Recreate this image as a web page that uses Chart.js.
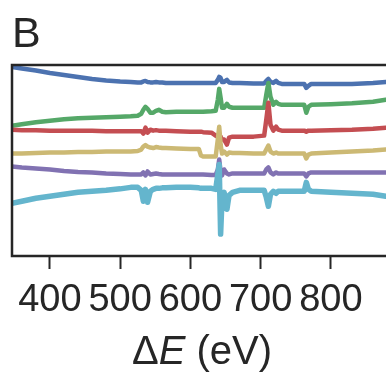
<!DOCTYPE html>
<html>
<head>
<meta charset="utf-8">
<title>Panel B</title>
<script src="https://cdn.jsdelivr.net/npm/chart.js@4/dist/chart.umd.min.js"></script>
<style>
  html, body { margin: 0; padding: 0; background: #fff; overflow: hidden; }
  #wrap { width: 386px; height: 378px; overflow: hidden; }
  canvas { display: block; }
</style>
</head>
<body>
<div id="wrap"><canvas id="spectra" width="392" height="378"></canvas></div>
<script>
/* Panel B — stacked spectra vs energy loss */

// ── Data (energy loss in eV, intensities in arb. units, offset per trace) ──
var energy = [346, 360, 380, 400, 420, 440, 460, 480, 500, 515,
              525, 530, 533, 536, 539, 543, 547, 551, 555, 560,
              565, 580, 600, 612, 615, 618, 630, 636, 639, 641,
              643, 645, 648, 652, 655, 660, 670, 690, 705, 708,
              711, 714, 718, 722, 725, 730, 745, 762, 765, 768,
              772, 800, 830, 860, 878];

var blue   = [190, 188.5, 186.5, 184, 182, 180, 178, 176.5, 175.5, 175,
              174.5, 174.5, 175.5, 176, 175, 174.5, 174.5, 175, 174.5, 174.5,
              174, 174, 174, 174, 174, 174, 174, 174, 177, 180,
              179, 175, 175, 177, 174.5, 174, 174, 173.5, 173.5, 176,
              178, 175, 174, 176, 174, 173, 173, 173, 169, 171,
              173, 173, 173, 174, 175];

var green  = [131, 132.5, 134.5, 136, 137.5, 138.5, 139, 139.5, 140, 140.5,
              141, 143, 147, 150, 148, 144, 144, 146, 147, 145,
              144.5, 145, 145, 145, 145, 145, 145.5, 146, 157, 168,
              159, 149, 149, 153, 150, 149, 149, 149, 149, 162,
              174, 160, 152, 155, 153, 152, 152, 152, 144, 150,
              152, 152.5, 153.5, 155, 157];

var red    = [127, 126.5, 126.5, 126, 126, 126, 126, 125.5, 125.5, 125.5,
              125.5, 125.5, 123, 129, 124, 127, 126, 126.5, 126, 126,
              126, 125.5, 125, 125, 125, 124.5, 124, 121, 120, 119,
              120, 117, 117, 112, 119, 120, 120, 120, 121, 137,
              154, 132, 126, 130, 127, 126, 126, 126, 125, 126,
              126, 126.5, 127, 128, 129];

var yellow = [103, 103, 103.5, 104, 104, 104.5, 104.5, 105, 105, 105,
              105.5, 107, 110, 111.5, 110, 109, 108.5, 109.5, 109, 108.5,
              108.5, 108, 107.5, 107.5, 101, 100, 100, 100, 117, 130,
              112, 103, 105, 102, 104, 103.5, 103.5, 103, 103, 107,
              111, 105, 103, 104, 103, 103, 103, 103, 98, 102,
              103, 104, 105, 106, 107];

var purple = [90, 89, 88, 87, 85.5, 84.5, 84, 83, 82.5, 82,
              82, 82, 84, 81, 85, 82, 82.5, 83, 82.5, 82,
              82, 82, 82, 82, 82, 82, 81.5, 81.5, 87, 97,
              85, 81, 87, 83, 82, 83, 83, 83, 83, 87,
              89, 84, 82, 84, 83, 83, 83, 83, 80, 83,
              84, 84, 84, 84, 84];

var cyan   = [53, 55, 58, 60, 62, 64, 65, 66, 67.5, 69,
              69, 66, 55, 67, 54, 65, 67, 68, 68, 68.5,
              68.5, 69, 69, 68.5, 68, 68, 68, 67, 82, 92,
              22, 57, 64, 47, 61, 64, 66, 66, 66, 59,
              50, 62, 65, 63, 65, 65, 65, 65, 74, 67,
              65, 64, 63, 62, 60];

var xTicks = [400, 500, 600, 700, 800];

(function () {
  "use strict";

  var INK = "#262626";
  var FONT = "'Liberation Sans', Arial, Helvetica, sans-serif";

  function series(label, values, color, width, order) {
    return {
      label: label,
      data: energy.map(function (e, i) { return { x: e, y: values[i] }; }),
      borderColor: color,
      borderWidth: width,
      pointRadius: 0,
      tension: 0,
      fill: false,
      borderJoinStyle: "round",
      borderCapStyle: "round",
      order: order
    };
  }

  // ── Frame: left, top and bottom spines over the traces ──────────────
  var framePlugin = {
    id: "frame",
    afterDatasetsDraw: function (chart) {
      var a = chart.chartArea, ctx = chart.ctx;
      ctx.save();
      ctx.strokeStyle = INK;
      ctx.lineWidth = 2.5;
      ctx.lineCap = "square";
      ctx.beginPath();
      ctx.moveTo(a.right + 2, a.top);
      ctx.lineTo(a.left, a.top);
      ctx.lineTo(a.left, a.bottom);
      ctx.lineTo(a.right + 2, a.bottom);
      ctx.stroke();
      ctx.restore();
    }
  };

  // ── Panel letter and axis title (italic E) ──────────────────────────
  var textPlugin = {
    id: "texts",
    afterDraw: function (chart) {
      var a = chart.chartArea, ctx = chart.ctx;
      ctx.save();
      ctx.fillStyle = INK;
      ctx.textBaseline = "alphabetic";
      ctx.textAlign = "left";

      ctx.font = "43px " + FONT;
      ctx.fillText("B", 12, 47);

      var size = 40;
      var parts = [
        { t: "\u0394", f: size + "px " + FONT },
        { t: "E", f: "italic " + size + "px " + FONT },
        { t: " (eV)", f: size + "px " + FONT }
      ];
      var total = 0;
      parts.forEach(function (p) { ctx.font = p.f; p.w = ctx.measureText(p.t).width; total += p.w; });
      var x = (a.left + a.right) / 2 - total / 2;
      parts.forEach(function (p) { ctx.font = p.f; ctx.fillText(p.t, x, 364); x += p.w; });
      ctx.restore();
    }
  };

  function initChart() {
    var canvas = document.getElementById("spectra");
    if (!canvas || typeof Chart === "undefined") return;

    new Chart(canvas.getContext("2d"), {
      type: "line",
      data: {
        datasets: [
          series("blue", blue, "#4C72B0", 4.5, 6),
          series("green", green, "#55A868", 4.5, 5),
          series("red", red, "#C44E52", 4.5, 4),
          series("yellow", yellow, "#CCB974", 4.5, 3),
          series("purple", purple, "#8172B2", 4.5, 2),
          series("cyan", cyan, "#64B5CD", 5.5, 1)
        ]
      },
      options: {
        responsive: false,
        animation: false,
        events: [],
        layout: { padding: { top: 65, left: 12, right: 0, bottom: 0 } },
        plugins: {
          legend: { display: false },
          tooltip: { enabled: false }
        },
        scales: {
          x: {
            type: "linear",
            min: 346,
            max: 887,
            afterBuildTicks: function (scale) {
              scale.ticks = xTicks.map(function (v) { return { value: v }; });
            },
            afterFit: function (scale) { scale.height = 122; },
            border: { display: false },
            grid: {
              drawOnChartArea: false,
              drawTicks: true,
              tickLength: 13,
              tickWidth: 2,
              tickColor: INK
            },
            ticks: {
              autoSkip: false,
              maxRotation: 0,
              padding: 9,
              color: INK,
              font: { family: FONT, size: 38 }
            }
          },
          y: {
            display: false,
            min: 0,
            max: 192
          }
        }
      },
      plugins: [framePlugin, textPlugin]
    });
  }

  document.addEventListener("DOMContentLoaded", initChart);
})();
</script>
</body>
</html>
